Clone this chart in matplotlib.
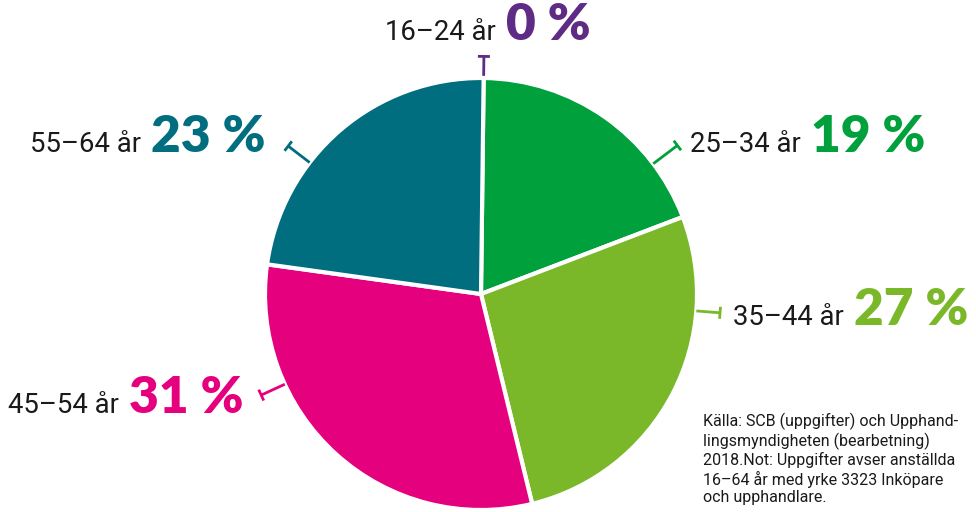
import matplotlib
matplotlib.use("Agg")
import matplotlib.pyplot as plt
import numpy as np

categories = ["16–24 år", "25–34 år", "35–44 år", "45–54 år", "55–64 år"]
values = [0, 19, 27, 31, 23]
pct_labels = ["0 %", "19 %", "27 %", "31 %", "23 %"]
colors = ["#5E2B85", "#00A03C", "#7AB829", "#E5007D", "#006E7F"]

note = ("Källa: SCB (uppgifter) och Upphand-\n"
        "lingsmyndigheten (bearbetning)\n"
        "2018.Not: Uppgifter avser anställda\n"
        "16–64 år med yrke 3323 Inköpare\n"
        "och upphandlare.")

W, H = 976, 512
fig = plt.figure(figsize=(W / 100, H / 100), dpi=100)
ax = fig.add_axes([0, 0, 1, 1])
ax.set_xlim(0, W)
ax.set_ylim(0, H)
ax.set_aspect("equal")
ax.axis("off")

cx, cy, R = 481, 218, 216
ax.pie(values, colors=colors, startangle=89.3, counterclock=False,
       center=(cx, cy), radius=R,
       wedgeprops=dict(edgecolor="white", linewidth=3))
ax.set_xlim(0, W)
ax.set_ylim(0, H)

# leader lines (angle deg, r_start, r_end) and label anchors (x, baseline y)
leaders = [(89.3, 1.01, 1.10), (37.1, 1.0, 1.14), (-4.5, 1.0, 1.11),
           (204.7, 1.0, 1.12), (142.5, 1.0, 1.125)]
anchors = [(385, 472), (690, 360), (733, 187), (8, 99), (30, 360)]

for (ang, r0, r1), col in zip(leaders, colors):
    a = np.deg2rad(ang)
    x0, y0 = cx + R * r0 * np.cos(a), cy + R * r0 * np.sin(a)
    x1, y1 = cx + R * r1 * np.cos(a), cy + R * r1 * np.sin(a)
    ax.plot([x0, x1], [y0, y1], color=col, lw=2, solid_capstyle="butt")
    t = 6
    px, py = -np.sin(a), np.cos(a)
    ax.plot([x1 - t * px, x1 + t * px], [y1 - t * py, y1 + t * py],
            color=col, lw=2, solid_capstyle="butt")

fig.canvas.draw()
renderer = fig.canvas.get_renderer()
inv = ax.transData.inverted()
for cat, pl, col, (x, y) in zip(categories, pct_labels, colors, anchors):
    t1 = ax.text(x, y, cat, fontsize=19.8, family="Roboto", color="#1a1a1a",
                 ha="left", va="baseline")
    bb = t1.get_window_extent(renderer=renderer)
    xe = inv.transform((bb.x1, bb.y0))[0]
    ax.text(xe + 10, y, pl, fontsize=37, family="Lato",
            fontweight="heavy", color=col, ha="left", va="baseline")

ax.text(703, 99, note, fontsize=11.5, family="Roboto", color="#1a1a1a",
        ha="left", va="top", linespacing=1.18)

fig.savefig("out.png", dpi=100)
